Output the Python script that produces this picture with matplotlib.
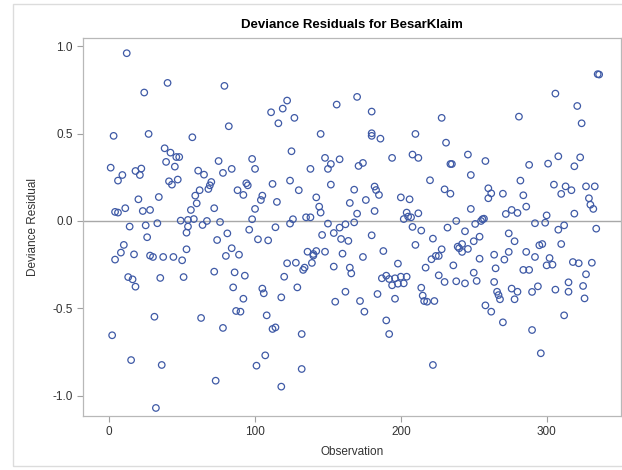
import numpy as np
import matplotlib.pyplot as plt
from matplotlib.patches import Rectangle

plt.rcParams['font.family'] = ['Liberation Sans', 'DejaVu Sans']

# observation index and deviance residual
obs = [
    12, 40, 24, 3, 27, 38, 42, 46, 48, 1, 9, 6, 18, 22, 21, 39, 45, 41, 43, 47,
    20, 34, 4, 6, 11, 23, 28, 14, 25, 33, 49, 26, 10, 8, 4, 17, 28, 30, 37, 44,
    50, 13, 16, 18, 35, 51, 31, 2, 15, 36, 32,
    79, 82, 57, 75, 98, 61, 65, 78, 84, 100, 70, 69, 68, 62, 59, 60, 56, 54, 58, 54,
    53, 53, 72, 64, 67, 76, 81, 74, 84, 80, 89, 96, 98, 102, 109, 100, 104, 105, 94, 95,
    88, 92, 72, 86, 93, 85, 92, 87, 90, 105, 106, 108, 63, 78, 107, 101, 73,
    111, 122, 119, 116, 127, 156, 145, 125, 148, 152, 158, 150, 138, 112, 124, 130, 152, 115, 142, 144,
    145, 135, 138, 168, 165, 126, 124, 114, 150, 146, 154, 158, 162, 168, 159, 164, 136, 142, 140, 140,
    148, 139, 160, 122, 128, 134, 133, 154, 165, 166, 120, 129, 118, 162, 155, 112, 114, 132, 132, 118,
    170, 180, 180, 180, 186, 210, 171, 174, 194, 208, 212, 220, 182, 183, 185, 176, 200, 206, 182, 170,
    204, 205, 202, 207, 212, 208, 214, 222, 180, 188, 210, 198, 174, 217, 221, 224, 226, 226, 187, 190,
    192, 194, 196, 198, 200, 202, 204, 214, 215, 216, 218, 223, 184, 172, 175, 196, 190, 192, 222,
    281, 228, 231, 246, 234, 235, 258, 248, 230, 234, 260, 262, 260, 270, 282, 284, 248, 272, 276, 280,
    238, 232, 244, 251, 255, 256, 257, 250, 254, 239, 240, 242, 242, 246, 228, 254, 274, 278, 274, 271,
    264, 265, 236, 250, 252, 230, 238, 244, 264, 266, 267, 268, 276, 280, 278, 284, 258, 262, 270,
    335, 336, 306, 321, 324, 308, 323, 319, 301, 288, 305, 313, 317, 310, 327, 333, 329, 330, 332, 286,
    319, 300, 299, 292, 312, 308, 334, 310, 295, 297, 286, 292, 302, 300, 304, 318, 322, 331, 327, 288,
    290, 294, 306, 315, 315, 325, 326, 312, 290, 296,
]
resid = [
    0.96, 0.79, 0.735, 0.487, 0.498, 0.416, 0.391, 0.366, 0.366, 0.305, 0.263, 0.231, 0.286, 0.30, 0.263, 0.338, 0.311, 0.227, 0.208, 0.237,
    0.124, 0.137, 0.052, 0.048, 0.073, 0.057, 0.063, -0.032, -0.025, -0.013, 0.002, -0.093, -0.137, -0.181, -0.221, -0.191, -0.198, -0.206, -0.206, -0.206,
    -0.225, -0.321, -0.334, -0.376, -0.326, -0.321, -0.548, -0.654, -0.796, -0.824, -1.07,
    0.773, 0.542, 0.479, 0.343, 0.355, 0.288, 0.265, 0.275, 0.298, 0.298, 0.223, 0.204, 0.183, 0.176, 0.145, 0.101, 0.063, 0.006, 0.011, -0.032,
    -0.067, -0.162, 0.073, -0.023, 0.0, -0.006, -0.071, -0.109, -0.156, -0.200, -0.193, -0.050, 0.010, -0.105, -0.111, 0.069, 0.120, 0.145, 0.216, 0.204,
    0.176, 0.149, -0.29, -0.294, -0.313, -0.380, -0.445, -0.515, -0.519, -0.387, -0.414, -0.540, -0.555, -0.612, -0.769, -0.828, -0.914,
    0.622, 0.689, 0.643, 0.559, 0.590, 0.666, 0.498, 0.399, 0.361, 0.326, 0.353, 0.298, 0.298, 0.212, 0.231, 0.176, 0.208, 0.109, 0.135, 0.082,
    0.048, 0.021, 0.021, 0.179, 0.103, 0.010, -0.015, -0.036, -0.015, -0.080, -0.069, -0.038, -0.019, -0.008, -0.103, -0.114, -0.176, -0.172, -0.189, -0.198,
    -0.176, -0.240, -0.187, -0.242, -0.239, -0.267, -0.280, -0.261, -0.267, -0.300, -0.319, -0.380, -0.437, -0.405, -0.462, -0.618, -0.609, -0.647, -0.847, -0.948,
    0.710, 0.626, 0.502, 0.487, 0.471, 0.498, 0.315, 0.332, 0.361, 0.380, 0.361, 0.233, 0.197, 0.177, 0.149, 0.120, 0.135, 0.124, 0.057, 0.042,
    0.048, 0.025, 0.011, 0.021, 0.044, -0.034, -0.055, -0.101, -0.082, -0.172, -0.137, -0.244, -0.206, -0.267, -0.219, -0.200, -0.200, -0.311, -0.328, -0.313,
    -0.332, -0.368, -0.328, -0.359, -0.319, -0.357, -0.319, -0.382, -0.427, -0.458, -0.462, -0.458, -0.418, -0.458, -0.519, -0.445, -0.569, -0.647, -0.824,
    0.597, 0.590, 0.448, 0.380, 0.326, 0.326, 0.343, 0.263, 0.181, 0.156, 0.187, 0.158, 0.130, 0.156, 0.231, 0.147, 0.069, 0.040, 0.063, 0.046,
    0.0, -0.038, -0.059, -0.017, 0.0, 0.010, 0.013, -0.116, -0.090, -0.147, -0.156, -0.132, -0.177, -0.160, -0.162, -0.216, -0.071, -0.116, -0.177, -0.221,
    -0.193, -0.271, -0.254, -0.296, -0.343, -0.349, -0.345, -0.357, -0.349, -0.405, -0.424, -0.448, -0.387, -0.405, -0.448, -0.280, -0.483, -0.519, -0.580,
    0.840, 0.838, 0.729, 0.658, 0.559, 0.370, 0.364, 0.313, 0.328, 0.321, 0.208, 0.198, 0.176, 0.155, 0.198, 0.198, 0.130, 0.093, 0.069, 0.082,
    0.042, 0.032, -0.010, -0.013, -0.025, -0.050, -0.044, -0.132, -0.139, -0.132, -0.177, -0.206, -0.212, -0.254, -0.250, -0.235, -0.242, -0.239, -0.305, -0.280,
    -0.406, -0.374, -0.393, -0.351, -0.405, -0.372, -0.443, -0.540, -0.624, -0.757,
]

x_ticks = [0, 100, 200, 300]
y_ticks = [-1.0, -0.5, 0.0, 0.5, 1.0]

W, H = 622, 470
fig = plt.figure(figsize=(W / 100, H / 100), dpi=100)

# light outer border of the graph
fig.patches.append(Rectangle((13 / W, 4 / H), 1.0, 462 / H, transform=fig.transFigure,
                             fill=False, edgecolor='#dcdcdc', lw=1.0))

ax = fig.add_axes([82.7 / W, 1 - 416 / H, (621 - 82.7) / W, (416 - 38) / H])
ax.axhline(0, color='#a8a8a8', lw=1.0, zorder=1)
ax.scatter(obs, resid, s=22, facecolors='none', edgecolors='#3f5aa6', linewidths=0.9, zorder=2)

ax.set_xlim(-18.2, 351)
ax.set_ylim(-1.116, 1.047)
ax.set_xticks(x_ticks)
ax.set_yticks(y_ticks)
ax.set_yticklabels([f'{v:.1f}' for v in y_ticks])
ax.tick_params(direction='out', length=4, width=0.8, color='#a0a0a0', labelcolor='#333333', labelsize=8.5, pad=3)
for sp in ax.spines.values():
    sp.set_color('#b8b8b8')
    sp.set_linewidth(0.9)

ax.set_title('Deviance Residuals for BesarKlaim', fontsize=9.5, fontweight='bold', pad=7)
ax.set_xlabel('Observation', fontsize=8.5, color='#333333', labelpad=6)
ax.set_ylabel('Deviance Residual', fontsize=8.5, color='#333333', labelpad=10)

fig.savefig('out.png', dpi=100)
